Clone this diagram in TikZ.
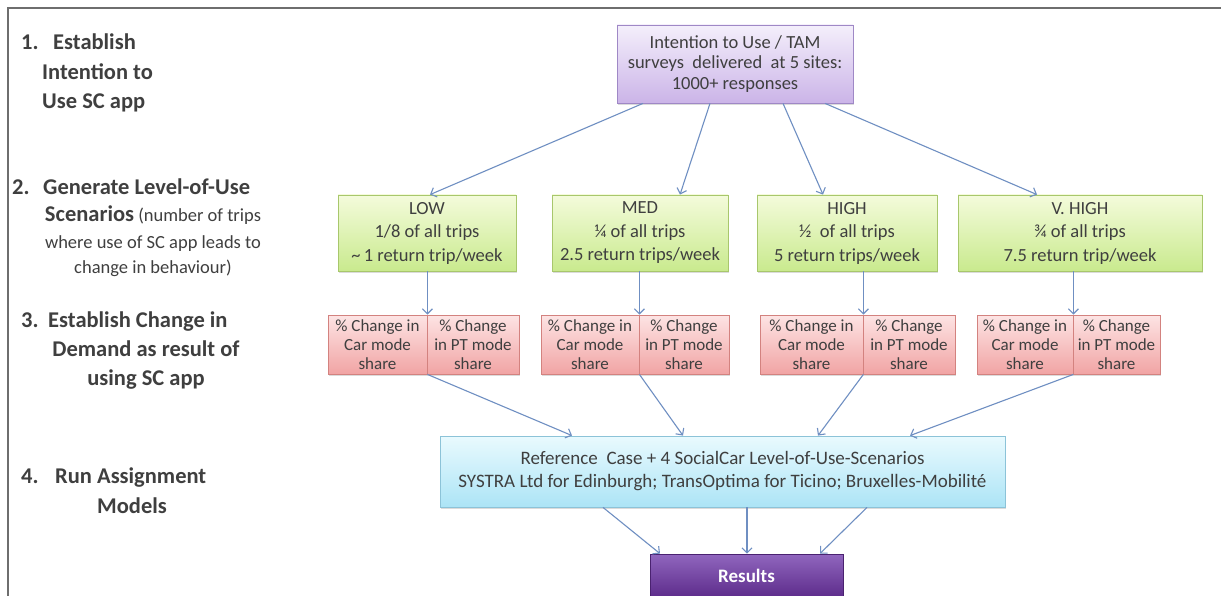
\documentclass[tikz,border=0pt]{standalone}
\usepackage{fontspec}
\setmainfont{Carlito}
\usetikzlibrary{arrows.meta,shadows}
\definecolor{txt}{HTML}{3F3F3F}
\definecolor{arr}{HTML}{6F8FC2}
\definecolor{framecol}{HTML}{6E6E6E}
\definecolor{pbord}{HTML}{9F88C6}
\definecolor{ptop}{HTML}{F4EFFB}
\definecolor{pbot}{HTML}{CBB4E8}
\definecolor{gbord}{HTML}{A8C76C}
\definecolor{gtop}{HTML}{F4FBDB}
\definecolor{gbot}{HTML}{C9EA8E}
\definecolor{rbord}{HTML}{D3827F}
\definecolor{rtop}{HTML}{FDE4E4}
\definecolor{rbot}{HTML}{F1A4A4}
\definecolor{bbord}{HTML}{8CC3D8}
\definecolor{btop}{HTML}{E9FAFE}
\definecolor{bbot}{HTML}{ACE4F6}
\definecolor{restop}{HTML}{9066BE}
\definecolor{resbot}{HTML}{5C2B8A}
\definecolor{resbord}{HTML}{4A2270}
\tikzset{
  box/.style={draw, rectangle, inner sep=0pt, align=center, text=txt, line width=0.8pt,
    drop shadow={shadow xshift=1.2pt, shadow yshift=-1.6pt, opacity=0.28}},
  tambox/.style={box, draw=pbord, top color=ptop, bottom color=pbot,
    font=\fontsize{18.5}{20.5}\selectfont},
  lvlbox/.style={box, draw=gbord, top color=gtop, bottom color=gbot, minimum height=76pt,
    font=\fontsize{18.5}{23.5}\selectfont},
  chgbox/.style={box, draw=rbord, top color=rtop, bottom color=rbot, minimum height=59pt,
    font=\fontsize{17}{19}\selectfont},
  asgbox/.style={box, draw=bbord, top color=btop, bottom color=bbot,
    font=\fontsize{19}{23}\selectfont},
  resbox/.style={box, draw=resbord, top color=restop, bottom color=resbot, text=white,
    font=\bfseries\fontsize{19}{22}\selectfont},
  conn/.style={draw=arr, line width=1.1pt, -{Straight Barb[length=5pt,width=10pt]}},
  framestyle/.style={draw=framecol, line width=2pt},
  stephead/.style={anchor=base west, inner sep=0pt, text=txt, font=\bfseries\fontsize{22.5}{27}\selectfont},
  stepline/.style={anchor=base, inner sep=0pt, text=txt, font=\bfseries\fontsize{22.5}{27}\selectfont},
  stepnote/.style={anchor=base, inner sep=0pt, text=txt, font=\fontsize{18.5}{22}\selectfont}
}
\begin{document}
\begin{tikzpicture}[x=1pt,y=-1pt]
\useasboundingbox (0,0) rectangle (1221,596);
\fill[white] (0,0) rectangle (1221,596);
\draw[framestyle] (8,597) -- (8,8) -- (1222,8);

% left-hand step descriptions
\node[stephead] (n1) at (21,50) {1.};
\node[stephead] (s1a) at (53,50) {Establish};
\node[stephead] (s1b) at (42,80) {Intention to};
\node[stephead] (s1c) at (42,109) {Use SC app};

\node[stephead] (n2) at (12,195) {2.};
\node[stephead] (s2a) at (43,195) {Generate Level-of-Use};
\node[stepline] (s2b) at (153,222) {Scenarios\fontsize{18.5}{22}\mdseries\selectfont\ (number of trips};
\node[stepnote] (s2c) at (153,248) {where use of SC app leads to};
\node[stepnote] (s2d) at (153,273) {change in behaviour)};

\node[stephead] (n3) at (21,327) {3.};
\node[stephead] (s3a) at (48,327) {Establish Change in};
\node[stepline] (s3b) at (146,356) {Demand as result of};
\node[stepline] (s3c) at (146,385) {using SC app};

\node[stephead] (n4) at (21,483) {4.};
\node[stephead] (s4a) at (55,483) {Run Assignment};
\node[stepline] (s4b) at (132,513) {Models};

% boxes
\node[tambox, minimum width=236pt, minimum height=78pt] (tam) at (735,64)
  {Intention to Use / TAM\\surveys\ \ delivered\ \ at 5 sites:\\1000+ responses};

\node[lvlbox, minimum width=178pt] (low) at (427,233)
  {LOW\\1/8 of all trips\\\textasciitilde\,1 return trip/week};
\node[lvlbox, minimum width=176pt] (med) at (640,233)
  {MED\\¼ of all trips\\2.5 return trips/week};
\node[lvlbox, minimum width=180pt] (high) at (847,233)
  {HIGH\\½\ \ of all trips\\5 return trips/week};
\node[lvlbox, minimum width=244pt] (vhigh) at (1080,233)
  {V. HIGH\\¾ of all trips\\7.5 return trip/week};

\node[chgbox, minimum width=99pt] (lowA) at (377.5,344.5) {\% Change in\\Car mode\\share};
\node[chgbox, minimum width=92pt] (lowB) at (473,344.5) {\% Change\\in PT mode\\share};
\node[chgbox, minimum width=98pt] (medA) at (590,344.5) {\% Change in\\Car mode\\share};
\node[chgbox, minimum width=90pt] (medB) at (684,344.5) {\% Change\\in PT mode\\share};
\node[chgbox, minimum width=103pt] (highA) at (811.5,344.5) {\% Change in\\Car mode\\share};
\node[chgbox, minimum width=92pt] (highB) at (909,344.5) {\% Change\\in PT mode\\share};
\node[chgbox, minimum width=96pt] (vhA) at (1025,344.5) {\% Change in\\Car mode\\share};
\node[chgbox, minimum width=87pt] (vhB) at (1116.5,344.5) {\% Change\\in PT mode\\share};

\node[asgbox, minimum width=565pt, minimum height=71pt] (asg) at (722.5,471.5)
  {Reference\ \ Case + 4 SocialCar Level-of-Use-Scenarios\\SYSTRA Ltd for Edinburgh; TransOptima for Ticino; Bruxelles-Mobilité};

\node[resbox, minimum width=193pt, minimum height=44pt] (res) at (746.5,576) {Results};

% connectors
\draw[conn] (tam.south -| 643,0) -- (low.north -| 430,0);
\draw[conn] (tam.south -| 710,0) -- (med.north -| 680,0);
\draw[conn] (tam.south -| 783,0) -- (high.north -| 823,0);
\draw[conn] (tam.south -| 825,0) -- (vhigh.north -| 1037,0);

\draw[conn] (low.south -| lowA.east) -- (lowA.north east);
\draw[conn] (med.south -| medA.east) -- (medA.north east);
\draw[conn] (high.south -| highA.east) -- (highA.north east);
\draw[conn] (vhigh.south -| vhA.east) -- (vhA.north east);

\draw[conn] (lowA.south east) -- (asg.north -| 572,0);
\draw[conn] (medA.south east) -- (asg.north -| 683,0);
\draw[conn] (highA.south east) -- (asg.north -| 818,0);
\draw[conn] (vhA.south east) -- (asg.north -| 910,0);

\draw[conn] (asg.south -| 603,0) -- (res.north -| 660,0);
\draw[conn] (asg.south -| 747,0) -- (res.north -| 747,0);
\draw[conn] (asg.south -| 867,0) -- (res.north -| 820,0);
\end{tikzpicture}
\end{document}
